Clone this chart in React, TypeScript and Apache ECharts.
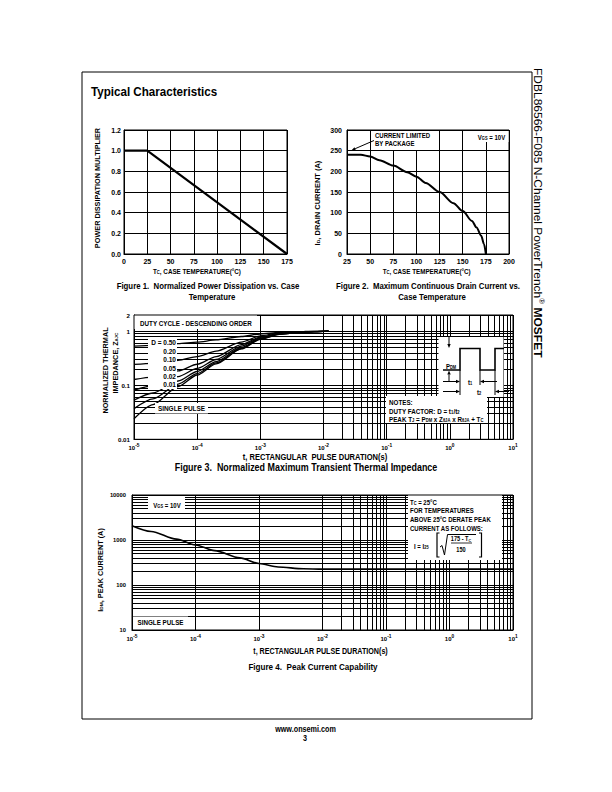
import React, { useEffect, useRef } from "react";
import * as echarts from "echarts";

const FONT = '"Liberation Sans", Arial, Helvetica, sans-serif';
const SX = 0.86;

// ---------------- Figure 1 ----------------
const fig1XRange = [0, 175];
const fig1XStep = 25;
const fig1YRange = [0, 1.2];
const fig1YStep = 0.2;
const fig1CaseTemp = [0, 25, 175];
const fig1Multiplier = [1.0, 1.0, 0.0];

// ---------------- Figure 2 ----------------
const fig2XRange = [25, 200];
const fig2XStep = 25;
const fig2YRange = [0, 300];
const fig2YStep = 50;
const fig2CaseTemp = [25, 40, 50, 60, 75, 90, 100, 110, 125, 140, 150, 160, 165, 170, 173, 175];
const fig2DrainCurrent = [240, 240, 236, 227, 214, 198, 187, 172, 150, 123, 104, 80, 64, 44, 24, 0];

// ---------------- Figure 3 ----------------
const fig3XRange = [1e-5, 10];
const fig3YRange = [0.01, 2];
const fig3PulseTime = [1e-5, 2e-5, 5e-5, 1e-4, 2e-4, 5e-4, 1e-3, 2e-3, 5e-3, 1e-2, 1.2e-2];
const fig3ZD050 = [0.53, 0.55, 0.59, 0.63, 0.69, 0.8, 0.89, 0.955, 0.99, 0.999, 1.0];
const fig3ZD020 = [0.243, 0.255, 0.29, 0.34, 0.43, 0.63, 0.82, 0.93, 0.982, 0.997, 1.0];
const fig3ZD010 = [0.128, 0.142, 0.185, 0.245, 0.34, 0.565, 0.78, 0.91, 0.978, 0.996, 1.0];
const fig3ZD005 = [0.081, 0.098, 0.145, 0.205, 0.3, 0.53, 0.755, 0.9, 0.975, 0.995, 1.0];
const fig3ZD002 = [0.053, 0.072, 0.12, 0.18, 0.275, 0.5, 0.735, 0.89, 0.972, 0.995, 1.0];
const fig3ZD001 = [0.037, 0.056, 0.105, 0.165, 0.26, 0.48, 0.72, 0.885, 0.97, 0.995, 1.0];
const fig3ZSingle = [0.024, 0.044, 0.095, 0.155, 0.25, 0.47, 0.71, 0.88, 0.97, 0.995, 1.0];
const fig3DutyLabels = ["D = 0.50", "0.20", "0.10", "0.05", "0.02", "0.01"];

// ---------------- Figure 4 ----------------
const fig4XRange = [1e-5, 10];
const fig4YRange = [10, 10000];
const fig4PulseTime = [1e-5, 2e-5, 5e-5, 1e-4, 2e-4, 5e-4, 1e-3, 2e-3, 5e-3, 1e-2, 1e-1, 1, 10];
const fig4PeakCurrent = [2080, 1550, 1045, 775, 580, 400, 300, 252, 229, 225, 225, 225, 225];

// ---------------- helpers ----------------
function decadeMinors(e0: number, e1: number) {
  const out: number[] = [];
  for (let e = e0; e < e1; e++) for (let k = 2; k <= 9; k++) out.push(+(k * Math.pow(10, e)).toPrecision(3));
  return out;
}

const lineBlack = { show: true, lineStyle: { color: "#000", width: 1 } };

function labelBase(size: number, margin: number) {
  return { color: "#000", fontFamily: FONT, fontWeight: "bold", fontSize: size, margin, showMinLabel: true, showMaxLabel: true };
}

function valueAxis(gridIndex: number, range: number[], step: number, size: number, margin: number, formatter?: any) {
  return {
    type: "value",
    gridIndex,
    min: range[0],
    max: range[1],
    interval: step,
    axisLine: lineBlack,
    axisTick: { show: false },
    splitLine: lineBlack,
    axisLabel: { ...labelBase(size, margin), ...(formatter ? { formatter } : {}) },
  };
}

const powRich = (size: number) => ({
  b: { fontSize: size, fontWeight: "bold", fontFamily: FONT, color: "#000", lineHeight: size + 2, verticalAlign: "bottom" },
  s: { fontSize: 4.8, fontWeight: "bold", fontFamily: FONT, color: "#000", lineHeight: 4.8, verticalAlign: "top" },
});

function logAxis(gridIndex: number, range: number[], size: number, margin: number, kind: "pow" | "num") {
  const axisLabel: any = { ...labelBase(size, margin) };
  if (kind === "pow") {
    axisLabel.formatter = (v: number) => `{b|10}{s|${Math.round(Math.log10(v))}}`;
    axisLabel.rich = powRich(size);
  } else {
    axisLabel.formatter = (v: number) => String(parseFloat(Number(v).toPrecision(2)));
  }
  return {
    type: "log",
    logBase: 10,
    gridIndex,
    min: range[0],
    max: range[1],
    axisLine: lineBlack,
    axisTick: { show: false },
    splitLine: lineBlack,
    axisLabel,
  };
}

function gridLines(xs: number[], ys: number[]) {
  return {
    silent: true,
    animation: false,
    symbol: "none",
    label: { show: false },
    emphasis: { disabled: true },
    lineStyle: { color: "#000", width: 1, type: "solid" },
    data: [...xs.map((v) => ({ xAxis: v })), ...ys.map((v) => ({ yAxis: v }))],
  };
}

function rich(size: number) {
  const sub = +(size * 0.66).toFixed(2);
  const mk = (fs: number, w: string, lh: number, va: string) => ({ fontSize: fs, fontWeight: w, fontFamily: FONT, fill: "#000", lineHeight: lh, verticalAlign: va });
  return {
    n: mk(size, "bold", size + 2, "bottom"),
    sb: mk(sub, "bold", sub, "bottom"),
    sp: mk(sub, "bold", sub, "top"),
    r: mk(size, "normal", size + 2, "bottom"),
    rsp: mk(sub, "normal", sub, "top"),
  };
}

function T(x: number, y: number, text: string, size: number, o: any = {}) {
  const rot = o.rot ?? 0;
  const sx = o.sx ?? SX;
  return {
    type: "text",
    x,
    y,
    rotation: rot,
    scaleX: rot ? 1 : sx,
    scaleY: rot ? sx : 1,
    z: 102,
    silent: true,
    style: {
      text,
      fontSize: size,
      fontWeight: o.w ?? "bold",
      fontFamily: FONT,
      fill: "#000",
      textAlign: o.align ?? "center",
      textVerticalAlign: "middle",
      rich: rich(size),
    },
  };
}

function R(x: number, y: number, w: number, h: number) {
  return { type: "rect", shape: { x, y, width: w, height: h }, style: { fill: "#fff" }, z: 100, silent: true };
}

function L(x1: number, y1: number, x2: number, y2: number, lw = 1) {
  return { type: "line", shape: { x1, y1, x2, y2 }, style: { stroke: "#000", lineWidth: lw }, z: 101, silent: true };
}

function P(points: number[][], lw = 1) {
  return { type: "polyline", shape: { points }, style: { stroke: "#000", lineWidth: lw, fill: "none" }, z: 101, silent: true };
}

function arrow(x1: number, y1: number, x2: number, y2: number, head = 4, half = 1.7) {
  const dx = x2 - x1;
  const dy = y2 - y1;
  const len = Math.hypot(dx, dy);
  const ux = dx / len;
  const uy = dy / len;
  const bx = x2 - ux * head;
  const by = y2 - uy * head;
  return [
    L(x1, y1, bx, by),
    {
      type: "polygon",
      shape: { points: [[x2, y2], [bx - uy * half, by + ux * half], [bx + uy * half, by - ux * half]] },
      style: { fill: "#000" },
      z: 101,
      silent: true,
    },
  ];
}

const pairs = (xs: number[], ys: number[]) => xs.map((x, i) => [x, ys[i]]);

function curve(name: string, xi: number, xs: number[], ys: number[], width: number, smooth: number | boolean, extra: any = {}) {
  return {
    name,
    type: "line",
    xAxisIndex: xi,
    yAxisIndex: xi,
    data: pairs(xs, ys),
    symbol: "none",
    smooth,
    smoothMonotone: "x",
    lineStyle: { color: "#000", width },
    itemStyle: { color: "#000" },
    z: 6,
    silent: true,
    ...extra,
  };
}

function buildOption() {
  const gridBase = { show: true, borderColor: "#000", borderWidth: 1, backgroundColor: "transparent", containLabel: false, outerBoundsMode: "none" };

  const fig3Curves = [fig3ZD050, fig3ZD020, fig3ZD010, fig3ZD005, fig3ZD002, fig3ZD001, fig3ZSingle];
  const fig3Names = [...fig3DutyLabels, "SINGLE PULSE"];

  const dutyTextY = [343.3, 352, 360.3, 368.4, 376.4, 384.4];

  const elements: any[] = [
    // page frame
    { type: "rect", shape: { x: 82, y: 72, width: 450, height: 647 }, style: { fill: "none", stroke: "#000", lineWidth: 1 }, z: 100, silent: true },
    T(91, 92, "Typical Characteristics", 13.5, { align: "left" }),
    T(539, 68, "{r|FDBL86566-F085 N-Channel PowerTrench}{rsp|®}{n| MOSFET}", 12, { rot: -Math.PI / 2, align: "left", w: "normal" }),

    // Figure 1
    T(97.7, 188, "POWER DISSIPATION MULTIPLIER", 7.3, { rot: Math.PI / 2 }),
    T(197, 270, "{n|T}{sb|C}{n|, CASE TEMPERATURE(°C)}", 7.3),
    T(208, 286, "Figure 1.  Normalized Power Dissipation vs. Case", 9.1),
    T(212, 297, "Temperature", 9.1),

    // Figure 2
    T(316.7, 203, "{n|I}{sb|D}{n|, DRAIN CURRENT (A)}", 7.5, { rot: Math.PI / 2 }),
    T(426.7, 270, "{n|T}{sb|C}{n|, CASE TEMPERATURE(°C)}", 7.3),
    T(428, 286, "Figure 2.  Maximum Continuous Drain Current vs.", 9.1),
    T(432, 297, "Case Temperature", 9.1),
    R(371, 131, 67, 19),
    T(375, 135.5, "CURRENT LIMITED", 7, { align: "left" }),
    T(375, 143.5, "BY PACKAGE", 7, { align: "left" }),
    R(474, 131, 34.5, 11),
    T(491.5, 136.5, "{n|V}{sb|GS}{n| = 10V}", 7),
    ...arrow(374, 140.5, 351.5, 150.3),

    // Figure 3
    T(105.7, 370.5, "NORMALIZED THERMAL", 7.3, { rot: Math.PI / 2 }),
    T(114.3, 363, "{n|IMPEDANCE, Z}{sb|θJC}", 7.3, { rot: Math.PI / 2 }),
    T(315, 457.5, "t, RECTANGULAR  PULSE DURATION(s)", 8.8),
    T(306, 467.5, "Figure 3.  Normalized Maximum Transient Thermal Impedance", 10.4),
    R(134.5, 315.5, 122.5, 13.5),
    T(140, 323, "DUTY CYCLE - DESCENDING ORDER", 7.3, { align: "left" }),
    R(148, 338, 29, 51),
    ...fig3DutyLabels.map((s, i) => T(176, dutyTextY[i], s, 7.6, { align: "right" })),
    R(155, 403, 53, 10.5),
    T(181.5, 408.3, "SINGLE PULSE", 7.5),
    R(438.5, 337, 65, 60),
    R(386, 396, 101, 27),
    P([[443, 370], [460, 370], [460, 348.5], [480, 348.5], [480, 370], [495, 370], [495, 348.5], [504, 348.5]], 1.6),
    ...arrow(449, 336, 449, 348),
    ...arrow(449, 382, 449, 370.5),
    L(460, 370, 460, 395),
    L(480, 370, 480, 385),
    L(495, 370, 495, 395),
    ...arrow(443, 381.5, 460, 381.5),
    ...arrow(497, 381.5, 480, 381.5),
    ...arrow(443, 391.5, 460, 391.5),
    ...arrow(509, 391.5, 495, 391.5),
    T(451, 365, "{n|P}{sb|DM}", 7),
    T(470, 381.5, "{n|t}{sb|1}", 7),
    T(479, 391.5, "{n|t}{sb|2}", 7),
    T(389, 402, "NOTES:", 7.3, { align: "left" }),
    T(389, 410, "{n|DUTY FACTOR: D = t}{sb|1}{n|/t}{sb|2}", 7.3, { align: "left" }),
    T(389, 418, "{n|PEAK T}{sb|J}{n| = P}{sb|DM}{n| x Z}{sb|θJA}{n| x R}{sb|θJA}{n| + T}{sb|C}", 7.3, { align: "left" }),

    // Figure 4
    T(100, 570, "{n|I}{sb|DM}{n|, PEAK CURRENT (A)}", 7.3, { rot: Math.PI / 2 }),
    T(320.5, 651, "t, RECTANGULAR PULSE DURATION(s)", 8.3),
    T(313, 667, "Figure 4.  Peak Current Capability", 9.4),
    R(148, 497, 37, 14),
    T(167, 504, "{n|V}{sb|GS}{n| = 10V}", 7),
    R(133, 616.5, 55, 11),
    T(160.5, 622, "SINGLE PULSE", 7.3),
    R(408, 495.5, 94, 64.5),
    T(410, 501, "{n|T}{sb|C}{n| = 25°C}", 7, { align: "left" }),
    T(410, 510, "FOR TEMPERATURES", 7, { align: "left" }),
    T(410, 519, "ABOVE 25°C DERATE PEAK", 7, { align: "left" }),
    T(410, 528, "CURRENT AS FOLLOWS:", 7, { align: "left" }),
    T(414, 545, "{n|I = I}{sb|25}", 7, { align: "left" }),
    P([[439.5, 533], [437, 533], [437, 557], [439.5, 557]], 1.2),
    P([[479, 533], [481.5, 533], [481.5, 557], [479, 557]], 1.2),
    P([[440, 547], [442, 545.5], [444.5, 555], [447.5, 534.5], [476, 534.5]], 1),
    T(461, 538.5, "{n|175 - T}{sb|C}", 6.5),
    L(451, 543, 472, 543, 0.8),
    T(461, 549.5, "150", 6.5),

    // footer
    T(305.5, 729.5, "www.onsemi.com", 8.4),
    T(305, 738, "3", 8.4),
  ];

  return {
    animation: false,
    backgroundColor: "#fff",
    grid: [
      { ...gridBase, left: 124, top: 130, width: 163, height: 124 },
      { ...gridBase, left: 347, top: 130, width: 162, height: 124 },
      { ...gridBase, left: 134, top: 315, width: 379, height: 124.3 },
      { ...gridBase, left: 132, top: 495, width: 381, height: 135 },
    ],
    xAxis: [
      valueAxis(0, fig1XRange, fig1XStep, 7, 4),
      valueAxis(1, fig2XRange, fig2XStep, 7, 4),
      logAxis(2, fig3XRange, 6, 4, "pow"),
      logAxis(3, fig4XRange, 6, 4, "pow"),
    ],
    yAxis: [
      valueAxis(0, fig1YRange, fig1YStep, 7, 3, (v: number) => v.toFixed(1)),
      valueAxis(1, fig2YRange, fig2YStep, 7, 5),
      logAxis(2, fig3YRange, 6.2, 4, "num"),
      logAxis(3, fig4YRange, 5.8, 6, "num"),
    ],
    series: [
      curve("Power multiplier", 0, fig1CaseTemp, fig1Multiplier, 2.2, false),
      curve("Drain current", 1, fig2CaseTemp, fig2DrainCurrent, 2, 0.3),
      ...fig3Curves.map((ys, i) =>
        curve(fig3Names[i], 2, fig3PulseTime, ys, 1.3, 0.25, i === 0 ? { markLine: gridLines(decadeMinors(-5, 1), decadeMinors(-2, 0)) } : {})
      ),
      curve("Peak current", 3, fig4PulseTime, fig4PeakCurrent, 1.6, 0.3, { markLine: gridLines(decadeMinors(-5, 1), decadeMinors(1, 4)) }),
    ],
    graphic: { elements },
  };
}

export default function App() {
  const ref = useRef<HTMLDivElement>(null);
  useEffect(() => {
    if (!ref.current) return;
    const chart = echarts.init(ref.current, null, { renderer: "svg", width: 612, height: 792 });
    chart.setOption(buildOption() as any);
    return () => chart.dispose();
  }, []);
  return <div ref={ref} style={{ position: "absolute", left: 0, top: 0, width: 612, height: 792, background: "#fff" }} />;
}
